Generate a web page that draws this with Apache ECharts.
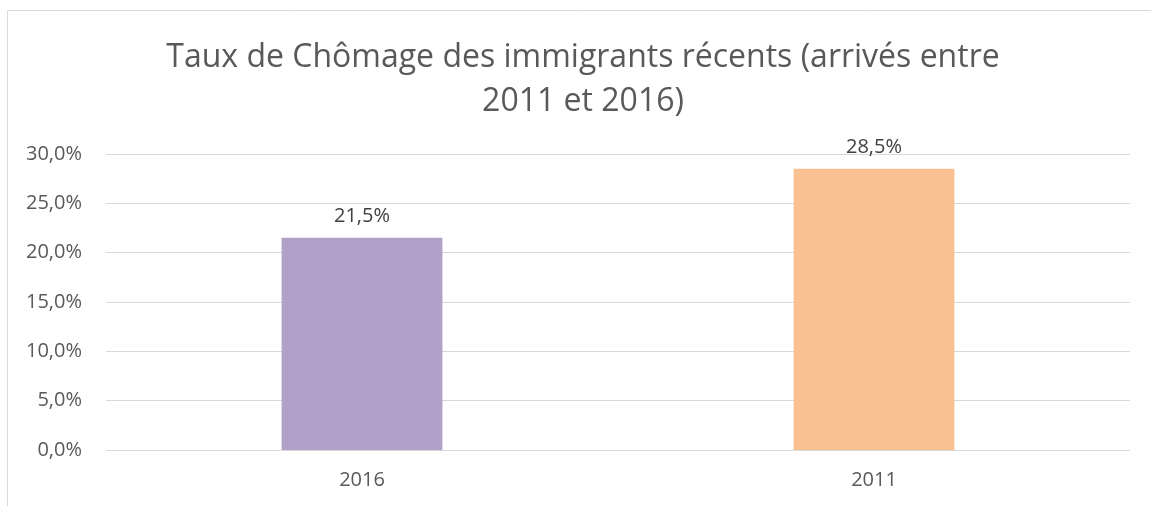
<!DOCTYPE html>
<html>
<head>
<meta charset="utf-8">
<script src="https://cdn.jsdelivr.net/npm/echarts@6/dist/echarts.min.js"></script>
<style>
  html, body { margin: 0; padding: 0; background: #fff; }
  #chart { width: 1151px; height: 506px; }
</style>
</head>
<body>
<div id="chart"></div>
<script>
const categories = ["2016", "2011"];
const values = [21.5, 28.5];
const barColors = ["#b1a0c7", "#f9c192"];
const titleText = "Taux de Chômage des immigrants récents (arrivés entre\n2011 et 2016)";

const fmt = (v) => v.toFixed(1).replace(".", ",") + "%";

const chart = echarts.init(document.getElementById("chart"));
chart.setOption({
  animation: false,
  textStyle: { fontFamily: "Open Sans" },
  graphic: [
    {
      type: "rect",
      shape: { x: 7.5, y: 10.5, width: 1200, height: 600 },
      style: { fill: "none", stroke: "#d9d9d9", lineWidth: 1 },
      silent: true
    }
  ],
  title: {
    text: titleText,
    left: 578,
    textAlign: "center",
    top: 31,
    textStyle: {
      fontFamily: "Open Sans",
      fontSize: 32,
      fontWeight: "normal",
      color: "#595959",
      lineHeight: 44
    }
  },
  grid: { left: 106, right: 21, top: 154, bottom: 56 },
  xAxis: {
    type: "category",
    data: categories,
    axisLine: { show: false },
    axisTick: { show: false },
    axisLabel: { color: "#595959", fontSize: 20, margin: 20 }
  },
  yAxis: {
    type: "value",
    min: 0,
    max: 30,
    interval: 5,
    axisLabel: { color: "#595959", fontSize: 20, margin: 24, formatter: fmt },
    splitLine: { lineStyle: { color: "#d9d9d9", width: 1 } },
    axisLine: { show: false },
    axisTick: { show: false }
  },
  series: [
    {
      type: "bar",
      data: values.map((v, i) => ({ value: v, itemStyle: { color: barColors[i] } })),
      barWidth: "31.4%",
      label: {
        show: true,
        position: "top",
        distance: 12,
        color: "#404040",
        fontSize: 20,
        formatter: (p) => fmt(p.value)
      }
    }
  ]
});
</script>
</body>
</html>
